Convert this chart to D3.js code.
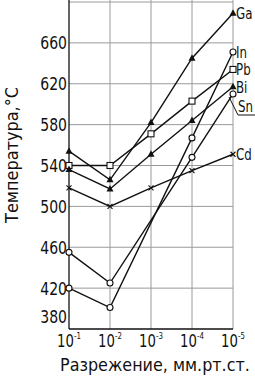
<!DOCTYPE html>
<html>
<head>
<meta charset="utf-8">
<script src="https://d3js.org/d3.v7.min.js"></script>
<style>
  body { margin: 0; background: #fff; }
  text { font-family: "DejaVu Sans", sans-serif; fill: #111; }
</style>
</head>
<body>
<script>
// pressure steps (mm Hg), 10^-1 ... 10^-5
const pressures = ["-1", "-2", "-3", "-4", "-5"];
const yTicks = [380, 420, 460, 500, 540, 580, 620, 660];

// temperatures, null = no point drawn at that step
const ga = [554, 526, 582, 645, 689];
const pb = [540, 540, 571, 603, 634];
const bi = [536, 517, 551, 584, 617];
const cd = [518, 500, 518, 535, 551];
const inn = [420, 401, null, 567, 651];
const sn = [455, 425, null, 548, 610];

const series = [
  {name: "Ga", values: ga, mark: "tri"},
  {name: "In", values: inn, mark: "circle"},
  {name: "Pb", values: pb, mark: "square"},
  {name: "Bi", values: bi, mark: "tri"},
  {name: "Sn", values: sn, mark: "circle"},
  {name: "Cd", values: cd, mark: "cross"}
];

const width = 255, height = 378;
const svg = d3.select("body").append("svg")
  .attr("width", width)
  .attr("height", height);

const x = d3.scalePoint().domain(pressures).range([69, 233]);
const y = d3.scaleLinear().domain([380, 700]).range([329, 2]);

const narrow = 0.78; // the drawing uses a tall narrow lettering

// grid
svg.append("g").selectAll("line")
  .data([420, 460, 500, 540, 580, 620, 660, 700])
  .enter().append("line")
  .attr("x1", 69).attr("x2", 233)
  .attr("y1", d => y(d)).attr("y2", d => y(d))
  .attr("stroke", "#9a9a9a").attr("stroke-width", 1);

svg.append("g").selectAll("line")
  .data(pressures.slice(1))
  .enter().append("line")
  .attr("x1", d => x(d)).attr("x2", d => x(d))
  .attr("y1", 0).attr("y2", y(380))
  .attr("stroke", "#9a9a9a").attr("stroke-width", 1);

// axes lines
svg.append("line").attr("x1", 69).attr("x2", 69).attr("y1", 0).attr("y2", y(380))
  .attr("stroke", "#111").attr("stroke-width", 1.3);
svg.append("line").attr("x1", 69).attr("x2", 233).attr("y1", y(380)).attr("y2", y(380))
  .attr("stroke", "#111").attr("stroke-width", 1.3);

// y tick labels
svg.append("g").selectAll("text")
  .data(yTicks)
  .enter().append("text")
  .attr("transform", d => `translate(67,${d === 380 ? y(d) - 12 : y(d)}) scale(${narrow},1)`)
  .attr("dy", "0.36em")
  .attr("text-anchor", "end")
  .attr("font-size", 18)
  .text(d => d);

// x tick labels
const xt = svg.append("g").selectAll("text")
  .data(pressures)
  .enter().append("text")
  .attr("transform", d => `translate(${x(d)},347) scale(${narrow},1)`)
  .attr("text-anchor", "middle")
  .attr("font-size", 17);
xt.append("tspan").text("10");
xt.append("tspan").attr("font-size", 9).attr("dy", -8).text(d => d);

// axis titles, squeezed to the width they take in the drawing
const yTitle = svg.append("text")
  .attr("text-anchor", "middle")
  .attr("font-size", 18)
  .text("Температура,°C");
const yk = 136 / yTitle.node().getComputedTextLength();
yTitle.attr("transform", `translate(18,155) rotate(-90) scale(${yk},1)`);

const xTitle = svg.append("text")
  .attr("font-size", 18)
  .text("Разрежение,  мм.рт.ст.");
const xk = 190 / xTitle.node().getComputedTextLength();
xTitle.attr("transform", `translate(60,371) scale(${xk},1)`);

// lines
const line = d3.line()
  .x(d => x(d.p))
  .y(d => y(d.v));

series.forEach(s => {
  const pts = s.values.map((v, i) => ({p: pressures[i], v: v})).filter(d => d.v !== null);
  svg.append("path")
    .datum(pts)
    .attr("d", line)
    .attr("fill", "none")
    .attr("stroke", "#111")
    .attr("stroke-width", 1.4);

  const g = svg.append("g");
  pts.forEach(d => {
    const cx = x(d.p), cy = y(d.v);
    if (s.mark === "tri") {
      g.append("path")
        .attr("d", `M${cx},${cy - 4}L${cx + 3.5},${cy + 2.5}L${cx - 3.5},${cy + 2.5}Z`)
        .attr("fill", "#111");
    } else if (s.mark === "square") {
      g.append("rect")
        .attr("x", cx - 3).attr("y", cy - 3).attr("width", 6).attr("height", 6)
        .attr("fill", "#fff").attr("stroke", "#111").attr("stroke-width", 1.1);
    } else if (s.mark === "circle") {
      g.append("circle")
        .attr("cx", cx).attr("cy", cy).attr("r", 3)
        .attr("fill", "#fff").attr("stroke", "#111").attr("stroke-width", 1.1);
    } else {
      g.append("path")
        .attr("d", `M${cx - 2.5},${cy - 2.5}L${cx + 2.5},${cy + 2.5}M${cx - 2.5},${cy + 2.5}L${cx + 2.5},${cy - 2.5}`)
        .attr("stroke", "#111").attr("stroke-width", 1.1);
    }
  });
});

// series labels at right
const labelY = {Ga: y(689), In: y(651), Pb: y(634), Bi: y(617), Sn: 106, Cd: y(551)};
svg.append("g").selectAll("text")
  .data(series)
  .enter().append("text")
  .attr("transform", d => `translate(${d.name === "Sn" ? 238 : 236},${labelY[d.name]}) scale(0.74,1)`)
  .attr("dy", "0.36em")
  .attr("font-size", 16)
  .text(d => d.name);

// Sn leader and underline
svg.append("path")
  .attr("d", `M229,${y(610) + 3}L238,115L255,115`)
  .attr("fill", "none")
  .attr("stroke", "#111")
  .attr("stroke-width", 1);
</script>
</body>
</html>
